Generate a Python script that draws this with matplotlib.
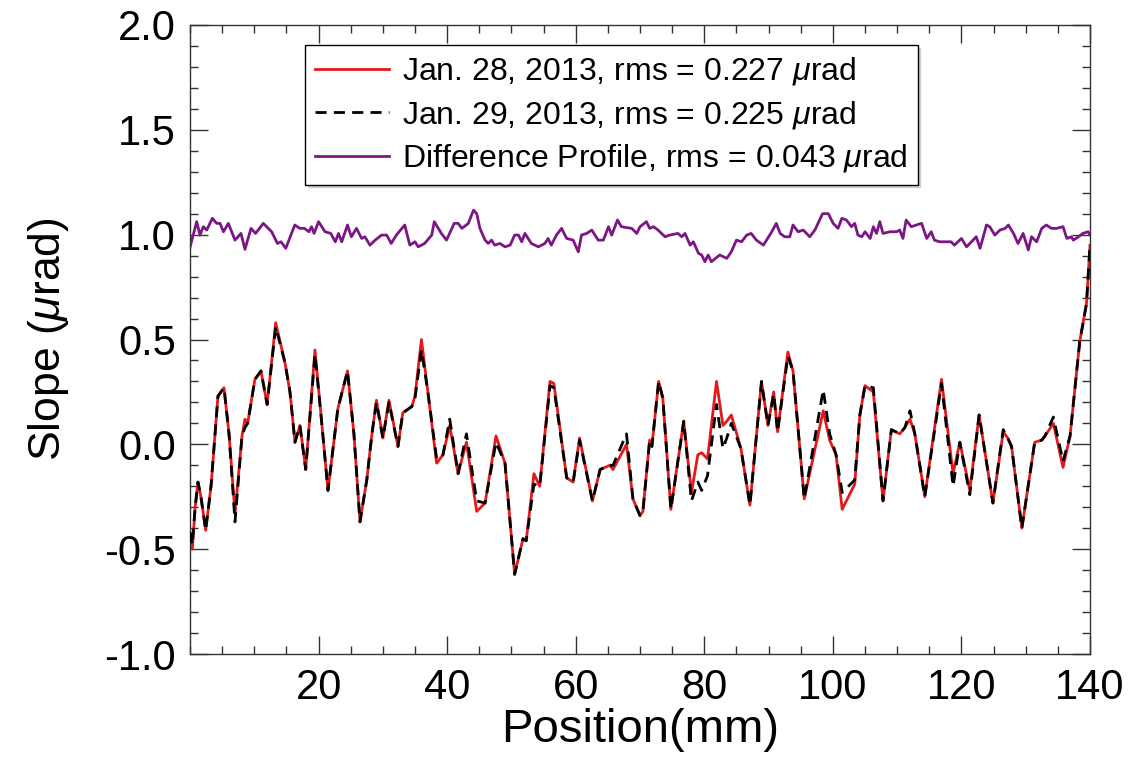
import matplotlib
matplotlib.use("Agg")
import matplotlib.pyplot as plt
from matplotlib.ticker import MultipleLocator, FormatStrFormatter

plt.rcParams['font.family'] = ['Liberation Sans', 'DejaVu Sans']
plt.rcParams['mathtext.fontset'] = 'custom'
plt.rcParams['mathtext.rm'] = 'Liberation Sans'
plt.rcParams['mathtext.it'] = 'Liberation Sans:italic'
plt.rcParams['axes.unicode_minus'] = False

# Jan. 28 profile (red)
pos_red = [0.0, 0.36, 0.8, 1.24, 1.7, 2.44, 3.27, 4.35, 5.29, 6.07, 7.0, 8.09, 8.55, 8.97,
           10.1, 11.04, 12.0, 13.33, 14.77, 15.55, 16.33, 17.1, 18.0, 19.44, 20.5, 21.46,
           23.0, 24.5, 25.5, 26.44, 27.5, 28.3, 29.0, 30.0, 30.95, 32.35, 33.1, 34.5, 35.0,
           36.0, 37.0, 38.37, 39.35, 40.4, 41.7, 43.0, 44.6, 45.9, 47.6, 49.0, 50.5, 51.8,
           52.3, 53.5, 54.4, 56.0, 56.6, 58.6, 59.6, 60.6, 62.6, 63.8, 65.3, 65.8, 67.9,
           68.9, 70.0, 70.45, 71.5, 71.85, 72.9, 73.55, 74.8, 76.8, 78.0, 79.0, 79.6, 80.5,
           81.9, 82.9, 83.5, 84.2, 85.7, 87.1, 88.9, 89.9, 90.8, 91.4, 93.0, 93.8, 95.55,
           98.5, 99.5, 100.5, 101.45, 103.4, 104.2, 105.0, 106.3, 107.8, 109.1, 110.4, 111.2,
           112.0, 112.75, 114.3, 116.9, 118.7, 119.75, 121.3, 122.75, 124.9, 126.5, 127.2,
           127.8, 129.4, 131.4, 132.5, 133.0, 134.3, 135.8, 136.9, 138.4, 139.45, 140.0]
slope_red = [-0.42, -0.50, -0.30, -0.18, -0.25, -0.41, -0.20, 0.23, 0.27, 0.05, -0.33, 0.04, 0.12, 0.10,
             0.31, 0.35, 0.19, 0.58, 0.39, 0.25, 0.01, 0.09, -0.12, 0.45, 0.10, -0.22,
             0.17, 0.35, 0.05, -0.37, -0.17, 0.05, 0.21, 0.03, 0.21, -0.01, 0.15, 0.18, 0.23,
             0.50, 0.25, -0.09, -0.05, 0.09, -0.14, 0.01, -0.32, -0.28, 0.04, -0.09, -0.62, -0.45,
             -0.46, -0.14, -0.20, 0.30, 0.29, -0.16, -0.18, 0.03, -0.27, -0.12, -0.10, -0.12, 0.00,
             -0.26, -0.34, -0.32, 0.02, -0.01, 0.30, 0.22, -0.31, 0.11, -0.23, -0.05, -0.04, -0.07,
             0.30, 0.09, 0.11, 0.14, -0.02, -0.29, 0.30, 0.09, 0.25, 0.06, 0.44, 0.35, -0.26,
             0.16, 0.02, -0.05, -0.31, -0.19, 0.14, 0.28, 0.25, -0.27, 0.07, 0.05, 0.08,
             0.12, 0.05, -0.25, 0.31, -0.14, 0.01, -0.22, 0.14, -0.28, 0.06, 0.03,
             -0.01, -0.40, 0.01, 0.02, 0.04, 0.10, -0.11, 0.04, 0.49, 0.67, 0.95]

# Jan. 29 profile (black dashed), same sample positions
slope_black = [-0.42, -0.48, -0.30, -0.18, -0.25, -0.41, -0.20, 0.23, 0.27, 0.05, -0.37, 0.04, 0.08, 0.10,
               0.31, 0.35, 0.19, 0.56, 0.39, 0.25, 0.01, 0.09, -0.12, 0.43, 0.10, -0.22,
               0.17, 0.35, 0.05, -0.37, -0.17, 0.05, 0.20, 0.03, 0.20, -0.01, 0.15, 0.18, 0.22,
               0.45, 0.25, -0.07, -0.05, 0.12, -0.14, 0.05, -0.27, -0.28, 0.01, -0.09, -0.62, -0.45,
               -0.46, -0.19, -0.20, 0.28, 0.27, -0.16, -0.18, 0.02, -0.27, -0.12, -0.10, -0.10, 0.05,
               -0.26, -0.34, -0.32, 0.02, -0.01, 0.30, 0.22, -0.31, 0.11, -0.27, -0.18, -0.22, -0.15,
               0.19, -0.02, 0.03, 0.10, -0.02, -0.29, 0.30, 0.09, 0.24, 0.06, 0.42, 0.35, -0.26,
               0.26, 0.05, -0.05, -0.23, -0.17, 0.14, 0.28, 0.27, -0.27, 0.07, 0.05, 0.08,
               0.16, 0.05, -0.25, 0.29, -0.20, 0.01, -0.24, 0.14, -0.28, 0.07, 0.03,
               -0.01, -0.40, 0.01, 0.02, 0.04, 0.13, -0.08, 0.04, 0.49, 0.67, 0.95]

# Difference profile (purple, offset by +1)
pos_diff = [0.0, 1.04, 1.55, 2.07, 2.6, 3.47, 4.15, 4.67, 5.2, 5.96, 7.0, 7.93, 8.55, 9.49, 10.2,
            11.4, 12.7, 13.6, 14.15, 14.9, 16.3, 17.1, 17.8, 18.5, 18.9, 19.3, 20.0, 21.0, 21.9,
            22.6, 23.1, 23.6, 24.5, 25.1, 25.9, 26.7, 27.2, 28.0, 28.8, 29.8, 30.6, 31.3, 32.1,
            33.4, 34.2, 35.0, 35.5, 36.5, 37.6, 38.0, 39.1, 39.9, 41.1, 41.7, 42.3, 43.3, 44.1,
            44.6, 45.1, 45.9, 46.4, 46.9, 47.4, 48.2, 49.0, 49.8, 50.5, 51.1, 51.6, 52.1, 53.1,
            54.2, 55.2, 55.7, 56.2, 57.0, 57.8, 58.6, 59.6, 60.4, 60.9, 61.7, 62.5, 63.5, 64.3,
            65.1, 65.6, 66.5, 67.1, 68.7, 69.5,
            70.0, 71.0, 71.5, 72.1, 72.8, 73.9, 74.6, 75.9, 76.5, 77.0, 77.8, 78.3, 79.1, 79.6,
            80.1, 80.6, 81.1, 82.4, 83.5, 84.2, 85.0, 85.8, 86.6, 87.3, 88.1, 89.2, 90.5, 91.2,
            91.8, 92.5, 93.3, 93.8, 94.6, 95.4, 96.4, 97.2, 98.4, 99.3, 100.05, 100.8, 101.4,
            102.1, 102.9, 103.4, 103.9, 104.5, 105.0, 105.8, 106.3, 106.8, 107.3, 107.8, 108.9,
            109.9, 110.4, 110.9, 111.4, 112.2, 113.0, 113.8, 114.6, 115.3, 115.8, 116.6, 117.6,
            118.4, 118.9, 120.0, 120.8, 121.8, 122.3, 122.9, 123.9, 124.4, 125.2, 126.0, 126.8,
            127.3, 128.1, 128.8, 129.6, 130.4, 130.9, 131.7, 132.5, 133.2, 134.0, 134.8, 135.8,
            136.4, 137.1, 137.4, 138.2, 138.9, 139.7, 140.0]
slope_diff = [0.94, 1.062, 0.998, 1.038, 1.022, 1.078, 1.054, 1.054, 1.014, 1.054, 0.974, 1.006, 0.930, 1.030, 1.006,
              1.054, 1.014, 0.958, 0.966, 0.935, 1.046, 1.030, 1.030, 1.014, 1.038, 1.006, 1.062, 1.014, 1.006,
              0.966, 1.006, 0.966, 1.046, 0.990, 1.030, 0.982, 0.990, 0.950, 0.974, 0.998, 0.998, 0.958, 0.998,
              1.046, 0.950, 0.966, 0.942, 0.958, 0.998, 1.062, 1.006, 0.974, 1.054, 1.054, 1.030, 1.054, 1.117,
              1.100, 1.030, 0.974, 0.958, 0.974, 0.950, 0.958, 0.942, 0.950, 0.998, 0.998, 0.966, 1.006, 0.958,
              0.942, 0.958, 0.982, 0.950, 0.998, 1.030, 0.982, 0.974, 0.918, 0.998, 1.006, 1.022, 0.974, 0.974,
              1.038, 0.998, 1.070, 1.038, 1.030, 1.006,
              1.038, 1.062, 1.030, 1.038, 1.022, 0.990, 0.998, 1.006, 0.990, 1.006, 0.950, 0.966, 0.911, 0.903,
              0.871, 0.903, 0.871, 0.903, 0.887, 0.918, 0.974, 0.966, 0.998, 1.006, 0.974, 0.950, 1.014, 1.054,
              1.006, 0.990, 0.990, 1.046, 1.014, 1.022, 0.990, 1.022, 1.100, 1.100, 1.054, 1.030, 1.078,
              1.070, 1.038, 1.054, 0.998, 0.990, 1.014, 0.982, 1.038, 1.006, 1.062, 1.006, 1.014,
              1.014, 1.022, 0.982, 1.070, 1.038, 1.046, 1.054, 0.982, 1.014, 0.974, 0.966, 0.966,
              0.966, 0.950, 0.982, 0.942, 0.974, 0.990, 0.935, 1.046, 1.038, 0.998, 1.022, 1.030,
              1.046, 1.006, 0.958, 1.006, 0.927, 0.990, 0.966, 1.030, 1.046, 1.030, 1.030, 1.038,
              0.982, 0.990, 0.974, 0.990, 1.006, 1.014, 1.00]

labels = ['Jan. 28, 2013, rms = 0.227 $\\mu$rad',
          'Jan. 29, 2013, rms = 0.225 $\\mu$rad',
          'Difference Profile, rms = 0.043 $\\mu$rad']
xticks = [20, 40, 60, 80, 100, 120, 140]
yticks = [-1.0, -0.5, 0.0, 0.5, 1.0, 1.5, 2.0]

fig = plt.figure(figsize=(11.3, 7.57), dpi=100)
ax = fig.add_axes([190/1130, 1 - 654/757, 900/1130, 629/757])

ax.plot(pos_red, slope_red, color='#e3191c', lw=2.0, label=labels[0], zorder=2)
ax.plot(pos_red, slope_black, color='black', lw=2.0, ls=(0, (4, 2.6)), label=labels[1], zorder=3)
ax.plot(pos_diff, slope_diff, color='#7b1684', lw=2.0, label=labels[2], zorder=2)

ax.set_xlim(0, 140)
ax.set_ylim(-1.0, 2.0)
ax.set_xticks(xticks)
ax.set_yticks(yticks)
ax.yaxis.set_major_formatter(FormatStrFormatter('%.1f'))
ax.xaxis.set_minor_locator(MultipleLocator(5))
ax.yaxis.set_minor_locator(MultipleLocator(0.1))
ax.tick_params(which='both', direction='in', top=True, right=True, labelsize=30, width=1.0, color='#333333')
ax.tick_params(which='major', length=13, pad=10)
ax.tick_params(which='minor', length=6)
for s in ax.spines.values():
    s.set_linewidth(1.0)
    s.set_color('#333333')

ax.set_xlabel('Position(mm)', fontsize=34, labelpad=0)
ax.set_ylabel('Slope ($\\mu$rad)', fontsize=32, labelpad=24)

leg = ax.legend(loc='upper left', bbox_to_anchor=(0.128, 0.968), borderaxespad=0,
                fontsize=23, frameon=True, fancybox=False, edgecolor='black',
                handlelength=2.3, handletextpad=0.4, labelspacing=0.36,
                borderpad=0.32, shadow={'color': '0.82', 'alpha': 1.0})
leg.get_frame().set_linewidth(1.0)

fig.savefig('out.png', dpi=100)
